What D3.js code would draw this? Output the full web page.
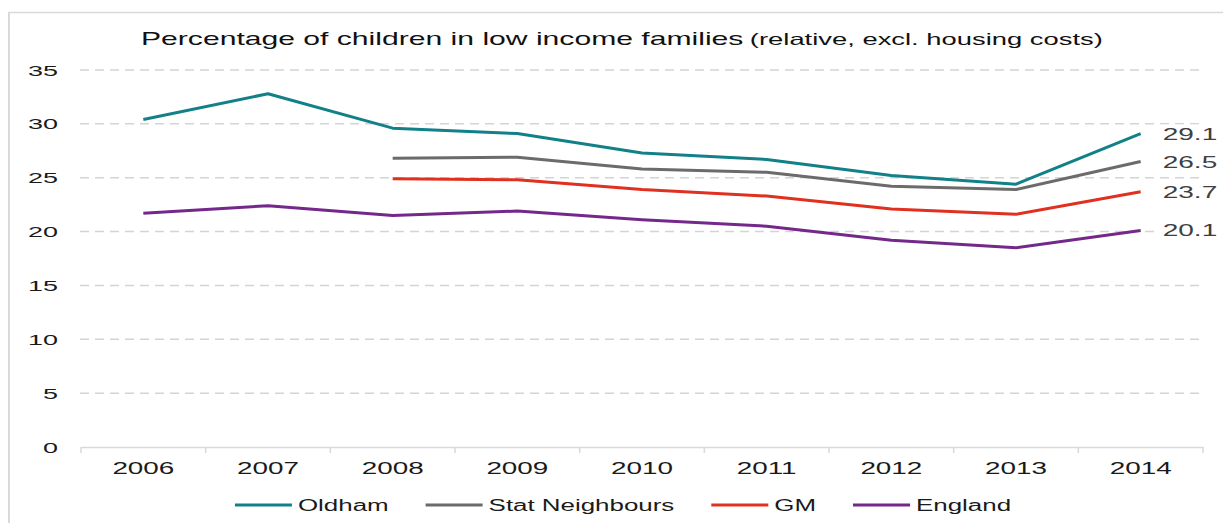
<!DOCTYPE html>
<html>
<head>
<meta charset="utf-8">
<script src="https://cdn.jsdelivr.net/npm/d3@7"></script>
<style>
  html, body { margin: 0; padding: 0; background: #fff; }
  svg { display: block; }
  text { font-family: "Liberation Sans", Arial, sans-serif; }
</style>
</head>
<body>
<svg id="chart" width="1223" height="523"></svg>
<script>
const years = ["2006","2007","2008","2009","2010","2011","2012","2013","2014"];
const oldham = [30.4, 32.8, 29.6, 29.1, 27.3, 26.7, 25.2, 24.4, 29.1];
const statNeighbours = [null, null, 26.8, 26.9, 25.8, 25.5, 24.2, 23.9, 26.5];
const gm = [null, null, 24.9, 24.8, 23.9, 23.3, 22.1, 21.6, 23.7];
const england = [21.7, 22.4, 21.5, 21.9, 21.1, 20.5, 19.2, 18.5, 20.1];
const yTicks = [0, 5, 10, 15, 20, 25, 30, 35];
const seriesNames = ["Oldham", "Stat Neighbours", "GM", "England"];
const seriesColors = ["#128088", "#6b6b6b", "#e0301f", "#74288a"];
const seriesValues = [oldham, statNeighbours, gm, england];
const endLabels = ["29.1", "26.5", "23.7", "20.1"];
const titleMain = "Percentage of children in low income families";
const titleSub = "(relative, excl. housing costs)";

const SX = 1.62;      // horizontal text stretch seen in the reference
const SXNUM = 1.74;   // numerals are stretched a bit more
const svg = d3.select("#chart");

function stretchedText(parent, x, y, str, size, anchor, fill, sx) {
  return parent.append("text")
    .attr("transform", `translate(${x},${y}) scale(${sx || SX},1)`)
    .attr("text-anchor", anchor)
    .attr("font-size", size)
    .attr("fill", fill || "#222")
    .text(str);
}

// chart frame
svg.append("line").attr("x1", 9).attr("x2", 9).attr("y1", 12).attr("y2", 523)
  .attr("stroke", "#d9d9d9").attr("stroke-width", 2);
svg.append("line").attr("x1", 8).attr("x2", 1223).attr("y1", 12.5).attr("y2", 12.5)
  .attr("stroke", "#d9d9d9").attr("stroke-width", 1.5);

const x = d3.scaleBand().domain(years).range([81, 1203]);
const y = d3.scaleLinear().domain([0, 35]).range([447, 70]);

// gridlines
svg.append("g").selectAll("line").data(yTicks.filter(d => d > 0)).join("line")
  .attr("x1", 80).attr("x2", 1203)
  .attr("y1", d => y(d)).attr("y2", d => y(d))
  .attr("stroke", "#d4d4d4").attr("stroke-width", 1.5)
  .attr("stroke-dasharray", "9,6");

// y tick labels
const yl = svg.append("g");
yTicks.forEach(t => stretchedText(yl, 58, y(t) + 5.5, String(t), 15.5, "end", "#1a1a1a", SXNUM));

// x axis
const xAxis = d3.axisBottom(x).tickSize(0).tickFormat("");
const xg = svg.append("g").attr("transform", `translate(0,${y(0)})`).call(xAxis);
xg.select(".domain").attr("stroke", "#d9d9d9").attr("stroke-width", 1.5);
const bounds = years.map(yr => x(yr)).concat([x.range()[1]]);
xg.selectAll("line.sep").data(bounds).join("line").attr("class", "sep")
  .attr("x1", d => d).attr("x2", d => d).attr("y1", 0).attr("y2", 6)
  .attr("stroke", "#d9d9d9").attr("stroke-width", 1.5);
const xl = svg.append("g");
years.forEach(yr => stretchedText(xl, x(yr) + x.bandwidth() / 2, 474, yr, 16, "middle", "#1a1a1a", SXNUM));

// lines
const line = d3.line()
  .defined(d => d.v !== null)
  .x(d => x(d.yr) + x.bandwidth() / 2)
  .y(d => y(d.v));
seriesValues.forEach((vals, i) => {
  const pts = years.map((yr, j) => ({ yr, v: vals[j] }));
  svg.append("path").datum(pts)
    .attr("d", line)
    .attr("fill", "none")
    .attr("stroke", seriesColors[i])
    .attr("stroke-width", 3)
    .attr("stroke-linejoin", "round");
});

// end labels
const el = svg.append("g");
seriesValues.forEach((vals, i) => {
  const v = vals[vals.length - 1];
  const lx = x(years[years.length - 1]) + x.bandwidth() / 2 + 22;
  el.append("rect").attr("x", lx - 4).attr("y", y(v) - 9).attr("width", 60).attr("height", 18).attr("fill", "#fff");
  stretchedText(el, lx, y(v) + 6, endLabels[i], 16.5, "start", "#404040", 1.7);
});

// title (two parts, left-aligned run)
const title = svg.append("text")
  .attr("transform", `translate(141,45) scale(1.62,1)`)
  .attr("text-anchor", "start")
  .attr("fill", "#111");
title.append("tspan").attr("font-size", 18.6).text(titleMain);
title.append("tspan").attr("font-size", 16.9).attr("dx", 4).text(titleSub);

// legend
const lg = svg.append("g");
let cursor = 0;
seriesNames.forEach((name, i) => {
  const g = lg.append("g");
  g.append("line").attr("x1", 0).attr("x2", 57).attr("y1", 0).attr("y2", 0)
    .attr("stroke", seriesColors[i]).attr("stroke-width", 3);
  const t = stretchedText(g, 63, 6, name, 16, "start", "#1a1a1a");
  const w = t.node().getComputedTextLength() * SX;
  g.attr("transform", `translate(${cursor},505)`);
  cursor += 63 + w + 37;
});
const total = cursor - 37;
lg.attr("transform", `translate(${623 - total / 2},0)`);
</script>
</body>
</html>
